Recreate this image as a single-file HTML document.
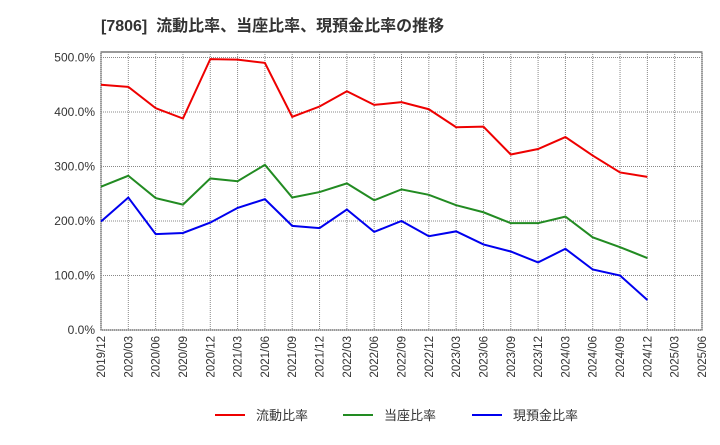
<!DOCTYPE html>
<html><head><meta charset="utf-8"><style>
body{margin:0;background:#fff;font-family:"Liberation Sans","Noto Sans CJK JP",sans-serif;}
</style></head><body>
<svg width="720" height="440" xmlns="http://www.w3.org/2000/svg" id="chart">
<text x="101" y="31" font-size="16" font-weight="bold" fill="#333" font-family="Liberation Sans, Noto Sans CJK JP, sans-serif" xml:space="preserve">[7806]  流動比率、当座比率、現預金比率の推移</text>
<rect x="101" y="52" width="601" height="278" fill="#fff" stroke="#333" stroke-width="1"/>
<g id="grid"></g><g id="series"></g><g id="axes"></g>
<g>
<line x1="215" y1="415" x2="245" y2="415" stroke="#e00" stroke-width="2"/>
<text x="256" y="420" font-size="13" fill="#333">流動比率</text>
<line x1="343" y1="415" x2="373" y2="415" stroke="#228b22" stroke-width="2"/>
<text x="384" y="420" font-size="13" fill="#333">当座比率</text>
<line x1="472" y1="415" x2="502" y2="415" stroke="#00e" stroke-width="2"/>
<text x="513" y="420" font-size="13" fill="#333">現預金比率</text>
</g>
</svg>
<script>
const categories=["2019/12","2020/03","2020/06","2020/09","2020/12","2021/03","2021/06","2021/09","2021/12","2022/03","2022/06","2022/09","2022/12","2023/03","2023/06","2023/09","2023/12","2024/03","2024/06","2024/09","2024/12","2025/03","2025/06"];
const currentRatio=[450,446,407,388,497,496,490,391,410,438,413,418,405,372,373,322,332,354,320,289,281];
const quickRatio=[263,283,242,230,278,273,303,243,253,269,238,258,248,229,216,196,196,208,170,152,132];
const cashRatio=[199,243,176,178,197,224,240,191,187,221,180,200,172,181,157,144,124,149,111,100,55];
const yTicks=[0,100,200,300,400,500];
const yTickLabels=["0.0%","100.0%","200.0%","300.0%","400.0%","500.0%"];
const NS="http://www.w3.org/2000/svg";
const X0=101,X1=702,Y0=330,YMAX=510,PH=278;
function xs(i){return X0+i*(X1-X0)/(categories.length-1);}
function ys(v){return Y0-v/YMAX*PH;}
const grid=document.getElementById('grid'),axes=document.getElementById('axes'),ser=document.getElementById('series');
yTicks.forEach((t,i)=>{
 const l=document.createElementNS(NS,'line');
 
 
 l.setAttribute('x1',X0);l.setAttribute('x2',X1);l.setAttribute('y1',ys(t));l.setAttribute('y2',ys(t));
 l.setAttribute('stroke','#888');l.setAttribute('stroke-dasharray','1,1');grid.appendChild(l);
 const tx=document.createElementNS(NS,'text');
 
 
 tx.setAttribute('x',95);tx.setAttribute('y',ys(t)+4);tx.setAttribute('text-anchor','end');
 tx.setAttribute('font-size','12');tx.setAttribute('fill','#333');tx.textContent=yTickLabels[i];axes.appendChild(tx);
});
categories.forEach((c,i)=>{
 const l=document.createElementNS(NS,'line');
 
 
 l.setAttribute('x1',xs(i));l.setAttribute('x2',xs(i));l.setAttribute('y1',52);l.setAttribute('y2',Y0);
 l.setAttribute('stroke','#888');l.setAttribute('stroke-dasharray','1,1');grid.appendChild(l);
 const tx=document.createElementNS(NS,'text');
 
 
 const x=xs(i)+4,y=336;
 tx.setAttribute('x',x);tx.setAttribute('y',y);tx.setAttribute('text-anchor','end');
 tx.setAttribute('transform','rotate(-90 '+x+' '+y+')');
 tx.setAttribute('font-size','11.5');tx.setAttribute('fill','#333');tx.textContent=c;axes.appendChild(tx);
});
function line(data,color,name){
 const p=document.createElementNS(NS,'polyline');
 
 
 p.setAttribute('points',data.map((v,i)=>xs(i)+','+ys(v)).join(' '));
 p.setAttribute('fill','none');p.setAttribute('stroke',color);p.setAttribute('stroke-width','2');
 ser.appendChild(p);
}
line(currentRatio,'#e00','current-ratio-line');
line(quickRatio,'#228b22','quick-ratio-line');
line(cashRatio,'#00e','cash-ratio-line');
</script>
</body></html>
